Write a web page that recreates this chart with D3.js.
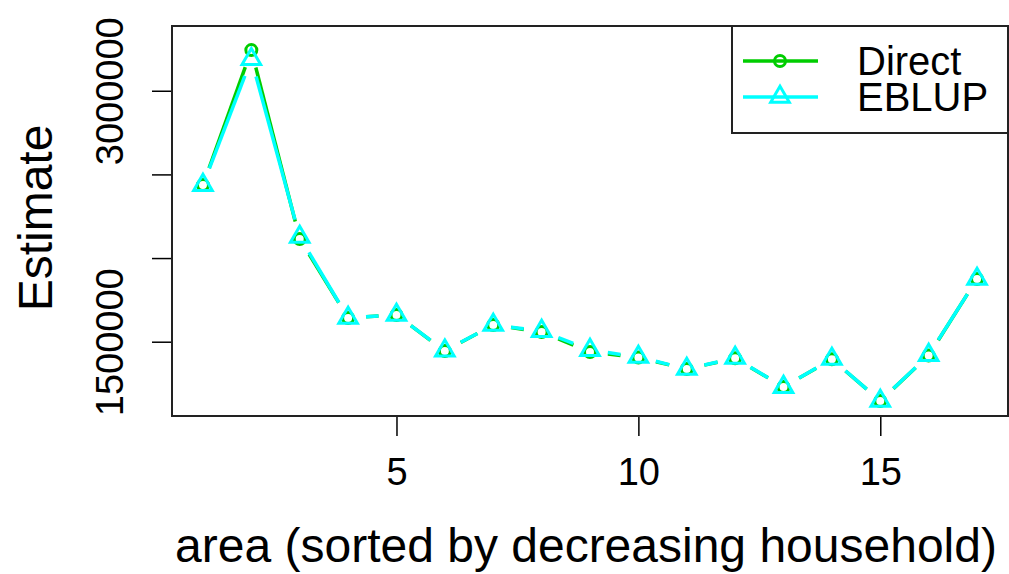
<!DOCTYPE html>
<html>
<head>
<meta charset="utf-8">
<script src="https://cdn.jsdelivr.net/npm/d3@7"></script>
<style>
  body { margin: 0; background: #fff; }
  text { font-family: "Liberation Sans", Arial, sans-serif; fill: #000; }
</style>
</head>
<body>
<div class="visHolder"></div>
<script>
var width = 1009,
    height = 574;

// area index, sorted by decreasing household
var areas = [1, 2, 3, 4, 5, 6, 7, 8, 9, 10, 11, 12, 13, 14, 15, 16, 17];
var direct = [2436000, 3243000, 2114000, 1642000, 1660000, 1444000, 1600000, 1558000, 1438000,
              1405000, 1337000, 1401000, 1229000, 1395000, 1146000, 1418000, 1875000];
var eblup  = [2436000, 3189000, 2126000, 1642000, 1660000, 1446000, 1600000, 1564000, 1450000,
              1409000, 1337000, 1403000, 1229000, 1397000, 1146000, 1420000, 1875000];
var xTicks = [5, 10, 15];
var yTicks = [1500000, 2000000, 2500000, 3000000];
var yTickLabels = ['1500000', '', '', '3000000'];
var seriesNames = ['Direct', 'EBLUP'];
var seriesColors = ['#00cd00', '#00ffff'];

var plot = {left: 172, right: 1008, top: 26, bottom: 416};

var svg = d3.select('.visHolder')
  .append('svg')
  .attr('width', width)
  .attr('height', height);

var xScale = d3.scaleLinear()
  .domain([0.36, 17.64])
  .range([plot.left, plot.right]);

var yScale = d3.scaleLinear()
  .domain([1056000, 3387000])
  .range([plot.bottom, plot.top]);

// axes
var xAxis = d3.axisBottom(xScale).tickValues(xTicks).tickSize(20).tickPadding(30).tickFormat(d3.format('d'));
var yAxis = d3.axisLeft(yScale).tickValues(yTicks).tickSize(20).tickPadding(30)
  .tickFormat(function (d, i) { return yTickLabels[i]; });

var gx = svg.append('g')
  .attr('transform', 'translate(0,' + plot.bottom + ')')
  .call(xAxis);
gx.select('.domain').remove();
gx.selectAll('.tick line').attr('stroke', '#000').attr('stroke-width', 1.5);
gx.selectAll('.tick text').style('font-size', '38px').attr('y', 69).attr('dy', 0);

var gy = svg.append('g')
  .attr('transform', 'translate(' + plot.left + ',0)')
  .call(yAxis);
gy.select('.domain').remove();
gy.selectAll('.tick line').attr('stroke', '#000').attr('stroke-width', 1.5);
gy.selectAll('.tick text')
  .style('font-size', '38px')
  .attr('x', 0).attr('dy', 0)
  .attr('transform', 'translate(-49,0) rotate(-90)')
  .style('text-anchor', 'middle');

// titles
svg.append('text')
  .attr('x', 586)
  .attr('y', 562)
  .style('font-size', '48px')
  .style('text-anchor', 'middle')
  .text('area (sorted by decreasing household)');

svg.append('text')
  .attr('transform', 'translate(52,' + ((plot.top + plot.bottom) / 2 - 3) + ') rotate(-90)')
  .style('font-size', '48px')
  .style('text-anchor', 'middle')
  .text('Estimate');

// type = "b" lines: segments with gaps around the points
var gap = 18;
function drawSeries(values, color, markerType) {
  var g = svg.append('g');
  for (var i = 0; i < values.length - 1; i++) {
    var x1 = xScale(areas[i]), y1 = yScale(values[i]);
    var x2 = xScale(areas[i + 1]), y2 = yScale(values[i + 1]);
    var len = Math.sqrt((x2 - x1) * (x2 - x1) + (y2 - y1) * (y2 - y1));
    if (len <= 2 * gap) continue;
    var ux = (x2 - x1) / len, uy = (y2 - y1) / len;
    g.append('line')
      .attr('x1', x1 + ux * gap).attr('y1', y1 + uy * gap)
      .attr('x2', x2 - ux * gap).attr('y2', y2 - uy * gap)
      .attr('stroke', color)
      .attr('stroke-width', 3.5);
  }
  g.selectAll('.pt')
    .data(values)
    .enter()
    .append('path')
    .attr('class', 'pt')
    .attr('d', markerType)
    .attr('transform', function (d, i) {
      return 'translate(' + xScale(areas[i]) + ',' + yScale(d) + ')';
    })
    .attr('fill', 'none')
    .attr('stroke', color)
    .attr('stroke-width', 3);
}

var circleSym = d3.symbol().type(d3.symbolCircle).size(95)();
var triSym = d3.symbol().type(d3.symbolTriangle).size(150)();

drawSeries(direct, seriesColors[0], circleSym);
drawSeries(eblup, seriesColors[1], triSym);

// plot box
svg.append('rect')
  .attr('x', plot.left)
  .attr('y', plot.top)
  .attr('width', plot.right - plot.left)
  .attr('height', plot.bottom - plot.top)
  .attr('fill', 'none')
  .attr('stroke', '#222')
  .attr('stroke-width', 2);

// legend
var legend = svg.append('g').attr('id', 'legend');
legend.append('rect')
  .attr('x', 732)
  .attr('y', plot.top)
  .attr('width', plot.right - 732)
  .attr('height', 107)
  .attr('fill', '#fff')
  .attr('stroke', '#222')
  .attr('stroke-width', 2);

var items = legend.selectAll('.legend-label')
  .data(seriesNames)
  .enter()
  .append('g')
  .attr('class', 'legend-label')
  .attr('transform', function (d, i) {
    return 'translate(0,' + (61 + i * 36) + ')';
  });

items.append('line')
  .attr('x1', 743).attr('x2', 818)
  .attr('stroke', function (d, i) { return seriesColors[i]; })
  .attr('stroke-width', 3.5);

items.append('path')
  .attr('d', function (d, i) { return i === 0 ? circleSym : triSym; })
  .attr('transform', 'translate(780,0)')
  .attr('fill', 'none')
  .attr('stroke', function (d, i) { return seriesColors[i]; })
  .attr('stroke-width', 3);

items.append('text')
  .attr('x', 857)
  .attr('y', 14)
  .style('font-size', '40px')
  .text(function (d) { return d; });
</script>
</body>
</html>
